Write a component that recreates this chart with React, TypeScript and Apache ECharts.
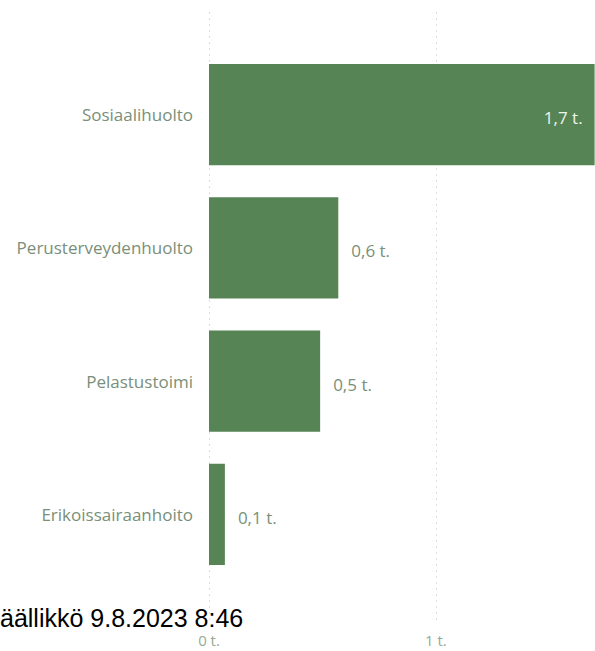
import React, { useEffect, useRef } from "react";
import * as echarts from "echarts";

const categories = ["Sosiaalihuolto", "Perusterveydenhuolto", "Pelastustoimi", "Erikoissairaanhoito"];
const values = [1.7, 0.57, 0.49, 0.07];
const tickValues = [0, 1];
const unit = "t.";
const caption = "äällikkö 9.8.2023 8:46";

const BAR = "#568454";
const LABEL = "#798f79";
const AXIS_LABEL = "#94ab94";
const FONT = "'Open Sans', 'Noto Sans', sans-serif";

const fmt = (v: number) => v.toFixed(1).replace(".", ",") + " " + unit;

export default function App() {
  const ref = useRef<HTMLDivElement>(null);
  useEffect(() => {
    if (!ref.current) return;
    const chart = echarts.init(ref.current, undefined, { renderer: "svg" });
    const left = 209;
    const right = -2;
    const unitPx = 228;
    const max = (595 - left - right) / unitPx;
    chart.setOption({
      animation: false,
      backgroundColor: "#ffffff",
      grid: [
        { left, right, top: 12, bottom: 28 },
        { left, right, top: 48, bottom: 70 },
      ],
      xAxis: [
        {
          gridIndex: 0,
          type: "value",
          min: 0,
          max,
          interval: 1,
          axisLine: { show: false },
          axisTick: { show: false },
          splitLine: { show: true, lineStyle: { color: "#dedede", type: [2, 4], width: 1 } },
          axisLabel: {
            margin: 9,
            color: AXIS_LABEL,
            fontFamily: FONT,
            fontSize: 15,
            lineHeight: 16,
            showMaxLabel: false,
            formatter: (v: number) => (tickValues.includes(v) ? `${v} ${unit}` : ""),
          },
        },
        {
          gridIndex: 1,
          type: "value",
          min: 0,
          max,
          show: false,
          splitLine: { show: false },
        },
      ],
      yAxis: [
        {
          gridIndex: 0,
          type: "category",
          data: categories,
          show: false,
        },
        {
          gridIndex: 1,
          type: "category",
          data: categories,
          inverse: true,
          axisLine: { show: false },
          axisTick: { show: false },
          axisLabel: {
            margin: 16,
            color: LABEL,
            fontFamily: FONT,
            fontSize: 17,
            padding: [7, 0, 0, 0],
          },
        },
      ],
      series: [
        {
          type: "bar",
          xAxisIndex: 1,
          yAxisIndex: 1,
          barCategoryGap: "24%",
          itemStyle: { color: BAR },
          data: values.map((v, i) => ({
            value: v,
            label:
              i === 0
                ? { position: "insideRight", distance: 12, color: "#eef5ea" }
                : { position: "right", distance: 13, color: LABEL },
          })),
          label: {
            show: true,
            fontFamily: FONT,
            fontSize: 17,
            offset: [0, 3],
            formatter: (p: any) => fmt(p.value),
          },
        },
      ],
      graphic: [
        {
          type: "text",
          left: 0,
          top: 605,
          z: 100,
          style: {
            text: caption,
            fill: "#000000",
            font: "25px 'Liberation Sans', Arial, sans-serif",
          },
        },
      ],
    });
    return () => chart.dispose();
  }, []);
  return (
    <div
      ref={ref}
      style={{ position: "fixed", left: 0, top: 0, width: 595, height: 651, background: "#fff" }}
    />
  );
}
